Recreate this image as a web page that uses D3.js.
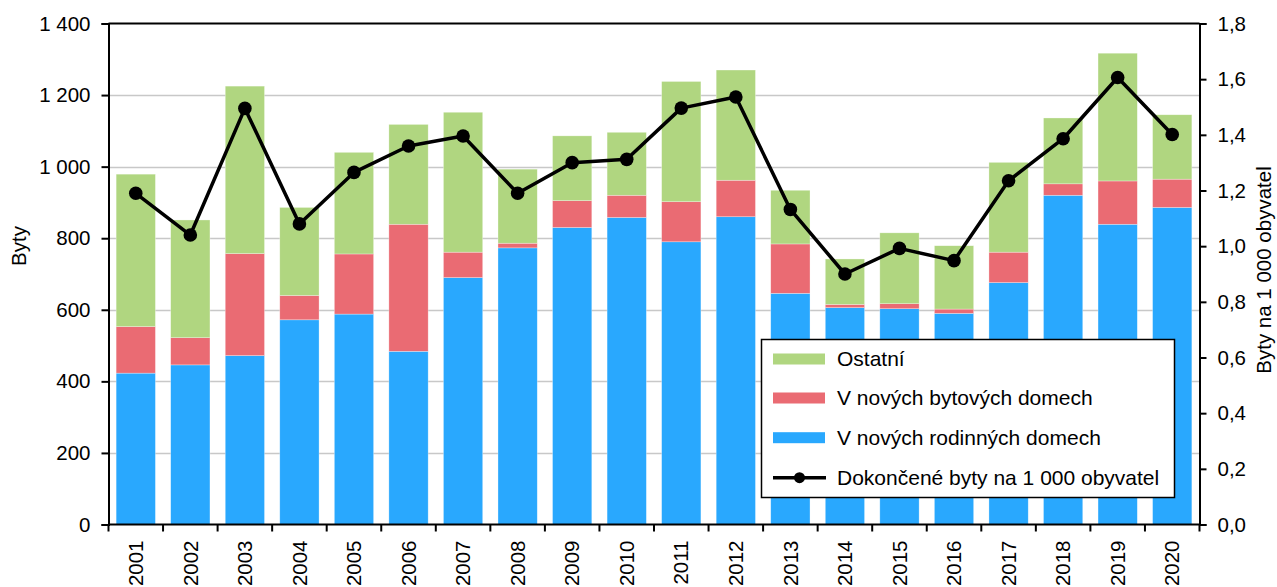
<!DOCTYPE html>
<html>
<head>
<meta charset="utf-8">
<script src="https://cdn.jsdelivr.net/npm/d3@7"></script>
<style>
  html, body { margin: 0; padding: 0; background: #fff; }
  svg { display: block; font-family: "Liberation Sans", Arial, sans-serif; }
</style>
</head>
<body>
<svg id="chart" width="1277" height="587"></svg>
<script>
const years = ["2001","2002","2003","2004","2005","2006","2007","2008","2009","2010",
               "2011","2012","2013","2014","2015","2016","2017","2018","2019","2020"];
const rodinne = [423,446,472,572,588,484,690,773,830,858,790,860,646,606,603,590,676,920,839,886];
const bytove  = [130,76,285,68,168,355,71,13,75,62,112,102,138,9,14,12,85,32,121,79];
const ostatni = [426,329,468,246,284,279,391,207,181,176,336,308,150,127,198,177,251,184,357,180];
const naTisic = [1.19,1.04,1.495,1.08,1.265,1.36,1.396,1.19,1.30,1.312,1.496,1.536,1.132,0.90,0.992,0.948,1.235,1.386,1.606,1.401];
const leftTicks = [0,200,400,600,800,1000,1200,1400];
const rightTicks = [0,0.2,0.4,0.6,0.8,1.0,1.2,1.4,1.6,1.8];
const seriesNames = ["V nových rodinných domech","V nových bytových domech","Ostatní"];
const lineName = "Dokončené byty na 1 000 obyvatel";
const colors = {"V nových rodinných domech":"#29a8fe","V nových bytových domech":"#ea6b73","Ostatní":"#b0d680"};

const svg = d3.select("#chart");
const m = {left:108.5, right:1199.5, top:23.5, bottom:524.5};
const fs = 20.5;
const fsLeg = 21;

const x = d3.scaleBand().domain(years).range([m.left, m.right]).paddingInner(0.28).paddingOuter(0.14);
const xb = d3.scaleBand().domain(years).range([m.left, m.right]).padding(0);
const y = d3.scaleLinear().domain([0,1400]).range([m.bottom, m.top]);
const y2 = d3.scaleLinear().domain([0,1.8]).range([m.bottom, m.top]);

const fmtL = v => d3.format(",")(v).replace(/,/g, "\u00a0");
const fmtR = v => d3.format(".1f")(v).replace(".", ",");

// grid
svg.append("g").selectAll("line").data(leftTicks.filter(d => d > 0 && d < 1400)).join("line")
  .attr("x1", m.left).attr("x2", m.right)
  .attr("y1", d => Math.round(y(d)) + 0.5).attr("y2", d => Math.round(y(d)) + 0.5)
  .attr("stroke", "#c8c8c8").attr("stroke-width", 1.5);

// stacked bars
const table = years.map((yr, i) => ({year: yr,
  "V nových rodinných domech": rodinne[i],
  "V nových bytových domech": bytove[i],
  "Ostatní": ostatni[i]}));
const stack = d3.stack().keys(seriesNames)(table);
svg.append("g").selectAll("g").data(stack).join("g")
  .attr("fill", d => colors[d.key])
  .selectAll("rect").data(d => d).join("rect")
  .attr("x", d => x(d.data.year))
  .attr("width", x.bandwidth())
  .attr("y", d => y(d[1]))
  .attr("height", d => y(d[0]) - y(d[1]))
  .attr("stroke", "#ffffff").attr("stroke-opacity", 0.5).attr("stroke-width", 0.6);

// top border
svg.append("line").attr("x1", m.left).attr("x2", m.right).attr("y1", m.top).attr("y2", m.top)
  .attr("stroke", "#000").attr("stroke-width", 2);

// left axis
const gL = svg.append("g").attr("transform", `translate(${m.left},0)`)
  .call(d3.axisLeft(y).tickValues(leftTicks).tickFormat(fmtL).tickSize(7).tickPadding(11));
// right axis
const gR = svg.append("g").attr("transform", `translate(${m.right},0)`)
  .call(d3.axisRight(y2).tickValues(rightTicks).tickFormat(fmtR).tickSize(7).tickPadding(11));
// bottom axis
const gB = svg.append("g").attr("transform", `translate(0,${m.bottom})`)
  .call(d3.axisBottom(xb).tickSize(0).tickFormat(d => d));
[gL, gR, gB].forEach(g => {
  g.select(".domain").attr("stroke", "#000").attr("stroke-width", 2);
  g.selectAll(".tick line").attr("stroke", "#000").attr("stroke-width", 2);
  g.selectAll("text").attr("font-size", fs).attr("fill", "#000").attr("font-family", "Liberation Sans, Arial, sans-serif");
});
gB.select(".domain").attr("d", `M${m.left},0H${m.right}`);
gB.selectAll(".tick text")
  .attr("transform", "rotate(-90)")
  .attr("text-anchor", "end")
  .attr("x", -16).attr("y", 0).attr("dy", "0.35em");
// bottom boundary ticks
const bounds = years.map(d => xb(d)).concat([m.right]);
svg.append("g").selectAll("line").data(bounds).join("line")
  .attr("x1", d => d).attr("x2", d => d)
  .attr("y1", m.bottom).attr("y2", m.bottom + 7)
  .attr("stroke", "#000").attr("stroke-width", 2);

// line
const line = d3.line().x((d, i) => xb(years[i]) + xb.bandwidth() / 2).y(d => y2(d));
svg.append("path").datum(naTisic).attr("d", line)
  .attr("fill", "none").attr("stroke", "#000").attr("stroke-width", 3.5).attr("stroke-linejoin", "round");
svg.append("g").selectAll("circle").data(naTisic).join("circle")
  .attr("cx", (d, i) => xb(years[i]) + xb.bandwidth() / 2)
  .attr("cy", d => y2(d)).attr("r", 6.8).attr("fill", "#000");

// axis titles
svg.append("text").attr("transform", "translate(26,246) rotate(-90)")
  .attr("text-anchor", "middle").attr("font-size", fs).text("Byty");
svg.append("text").attr("transform", "translate(1271,270) rotate(-90)")
  .attr("text-anchor", "middle").attr("font-size", fs).text("Byty na 1 000 obyvatel");

// legend
const lg = svg.append("g");
lg.append("rect").attr("x", 761.5).attr("y", 339.5).attr("width", 413).attr("height", 158)
  .attr("fill", "#fff").attr("stroke", "#000").attr("stroke-width", 1.5);
const legendItems = ["Ostatní","V nových bytových domech","V nových rodinných domech"];
const rowY = [359, 398, 437.7, 477.7];
legendItems.forEach((k, i) => {
  lg.append("rect").attr("x", 773).attr("y", rowY[i] - 5.5).attr("width", 52).attr("height", 11).attr("fill", colors[k]);
  lg.append("text").attr("x", 837).attr("y", rowY[i]).attr("dy", "0.35em").attr("font-size", fsLeg).text(k);
});
lg.append("line").attr("x1", 773).attr("x2", 826).attr("y1", rowY[3]).attr("y2", rowY[3])
  .attr("stroke", "#000").attr("stroke-width", 3.5);
lg.append("circle").attr("cx", 799.5).attr("cy", rowY[3]).attr("r", 5.5).attr("fill", "#000");
lg.append("text").attr("x", 837).attr("y", rowY[3]).attr("dy", "0.35em").attr("font-size", fsLeg).text(lineName);
</script>
</body>
</html>
